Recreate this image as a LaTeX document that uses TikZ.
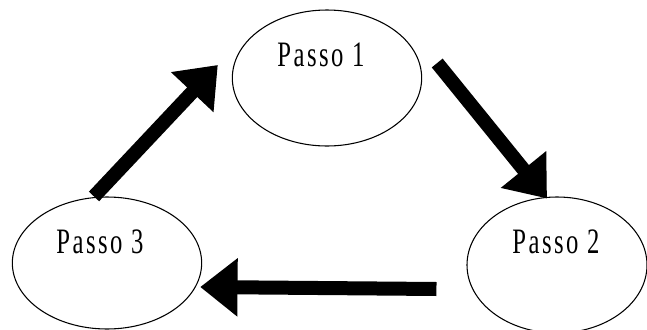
\documentclass[tikz,border=0pt]{standalone}
\usepackage{fontspec}
\usepackage{graphicx}
\newfontfamily\stepfont{Liberation Serif}[LetterSpace=10]
\usetikzlibrary{arrows.meta,shapes.geometric}

\newcommand{\steplabel}[1]{\scalebox{1}[1.45]{\stepfont\fontsize{18.5}{20}\selectfont #1}}

\begin{document}
\begin{tikzpicture}[
  x=0.75pt, y=-0.75pt,
  stepnode/.style={draw, ellipse, line width=0.8pt, inner sep=0pt,
    minimum width=142pt, minimum height=102pt},
  steptext/.style={inner sep=0pt},
  flow/.style={-{Triangle[length=28pt,width=42pt]}, line width=10.5pt}
]
\useasboundingbox (0,0) rectangle (647,329);

\node[stepnode] (p1) at (327,78) {};
\node[stepnode, minimum width=135pt] (p2) at (557,265) {};
\node[stepnode, minimum height=99pt] (p3) at (107,263) {};

\node[steptext] (t1) at (321,55) {\steplabel{Passo 1}};
\node[steptext] (t2) at (556,242) {\steplabel{Passo 2}};
\node[steptext] (t3) at (100,242) {\steplabel{Passo 3}};

\draw[flow] ([shift={(15,-15)}]p1.east) -- ([shift={(-10,2)}]p2.north);
\draw[flow] ([shift={(-30,24)}]p2.west) -- ([shift={(-2,24)}]p3.east);
\draw[flow] ([shift={(-13,0)}]p3.north) -- ([shift={(-14,-13)}]p1.west);

\end{tikzpicture}
\end{document}
